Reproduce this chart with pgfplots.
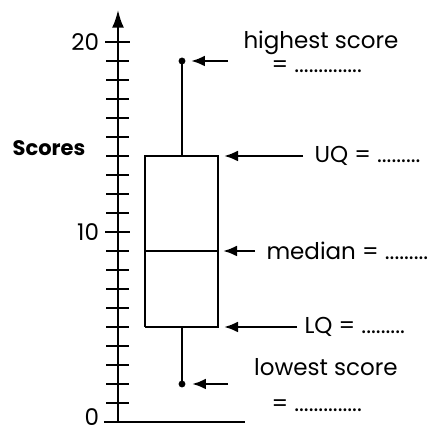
\documentclass[border=0pt]{standalone}
\usepackage{fontspec}
\setmainfont{Poppins}
\usepackage{pgfplots}
\pgfplotsset{compat=1.18}
\usetikzlibrary{arrows.meta}

\tikzset{ann/.style={line width=2.6pt, -{Latex[length=14pt,width=11pt]}}}

\begin{document}
\begin{tikzpicture}[font=\fontsize{23}{26}\selectfont]
\begin{axis}[
  scale only axis, width=321pt, height=412.3pt,
  xmin=0, xmax=321, ymin=0, ymax=21.7,
  axis y line=left, axis x line=none,
  y axis line style={line width=2.6pt, -{Latex[length=18pt,width=12pt]}},
  ytick={0,10,20}, minor y tick num=9,
  yticklabels={\raisebox{-4pt}[0pt][0pt]{0},10,20},
  tick align=center, major tick length=25pt, minor tick length=23pt,
  major tick style={line width=2.2pt, black},
  minor tick style={line width=1.6pt, black},
  yticklabel style={/pgf/number format/assume math mode=true,
    font=\fontsize{23}{26}\selectfont, xshift=-3pt},
  clip=false,
]
  % five-number summary: lowest 2, LQ 5, median 9, UQ 14, highest 19
  \addplot[line width=2.8pt, black, no marks] coordinates
    {(27,5) (100,5) (100,14) (27,14) (27,5)};
  \addplot[line width=2.8pt, black, no marks] coordinates {(27,9) (100,9)};
  \addplot[line width=2.8pt, black, no marks] coordinates {(64,14) (64,19)};
  \addplot[line width=2.8pt, black, no marks] coordinates {(64,2) (64,5)};
  \addplot[only marks, mark=*, mark size=3.2pt, black] coordinates {(64,2) (64,19)};

  \draw[line width=2.6pt] (axis cs:-14,0) -- (axis cs:127,0);
  \node[font=\fontsize{21}{24}\selectfont\bfseries] at (axis cs:-69,14.42) {Scores};

  % labels
  \draw[ann] (axis cs:110,19) -- (axis cs:73,19);
  \node at (axis cs:203,19.95) {highest score};
  \node[anchor=west] at (axis cs:150,18.7) {= ..............};
  \draw[ann] (axis cs:185,14) -- (axis cs:106,14);
  \node[anchor=west] at (axis cs:193,14) {UQ = .........};
  \draw[ann] (axis cs:137,9) -- (axis cs:105,9);
  \node[anchor=west] at (axis cs:145,9) {median = .........};
  \draw[ann] (axis cs:179,5) -- (axis cs:106,5);
  \node[anchor=west] at (axis cs:183,5) {LQ = .........};
  \draw[ann] (axis cs:110,2) -- (axis cs:74,2);
  \node at (axis cs:208,2.9) {lowest score};
  \node[anchor=west] at (axis cs:150,0.84) {= ..............};

  \coordinate (bl) at (axis cs:-118,-0.579);
  \coordinate (tr) at (axis cs:321,22.21);
\end{axis}
\pgfresetboundingbox
\path (bl) rectangle (tr);
\end{tikzpicture}
\end{document}
